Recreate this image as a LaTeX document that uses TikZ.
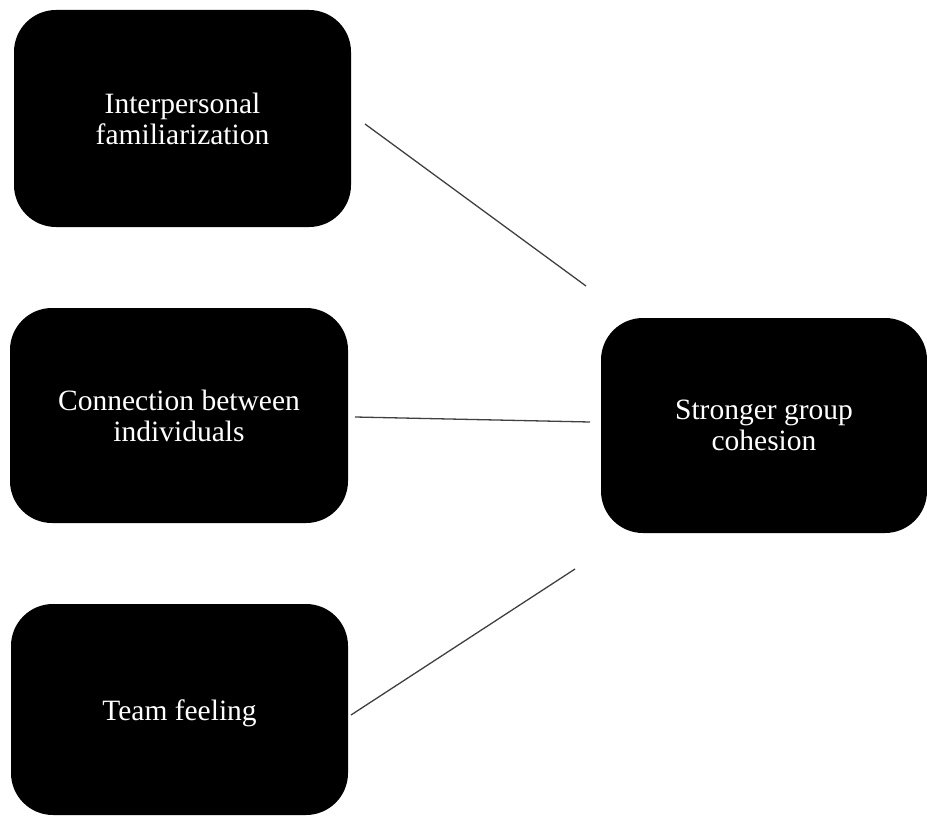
\documentclass[tikz,border=0pt]{standalone}
\usepackage{fontspec}
\setmainfont{Liberation Serif}
\begin{document}
\begin{tikzpicture}[x=1pt,y=-1pt,
  box/.style={draw=none,fill=black,rounded corners=42pt,text=white,
    align=center,inner sep=0pt,font=\fontsize{29.5}{31}\selectfont},
  link/.style={draw=black!75,line width=1.3pt}]
\useasboundingbox (0,0) rectangle (927,816);
% four boxes
\node[box,minimum width=337pt,minimum height=217pt] (fam) at (182.5,118.5) {Interpersonal\\familiarization};
\node[box,minimum width=338pt,minimum height=215pt] (con) at (179,415.5) {Connection between\\individuals};
\node[box,minimum width=337pt,minimum height=211pt] (team) at (179.5,709.5) {\raisebox{-11pt}[0pt][0pt]{Team feeling}};
\node[box,minimum width=326pt,minimum height=215pt] (coh) at (764,425.5) {Stronger group\\cohesion};
% connector ends
\coordinate (famE) at (365,124);
\coordinate (cohA) at (586,286);
\coordinate (conE) at (355,417);
\coordinate (cohB) at (590,422);
\coordinate (teamE) at (351,715);
\coordinate (cohC) at (575,569);
\draw[link] (famE) -- (cohA);
\draw[link] (conE) -- (cohB);
\draw[link] (teamE) -- (cohC);
\end{tikzpicture}
\end{document}
